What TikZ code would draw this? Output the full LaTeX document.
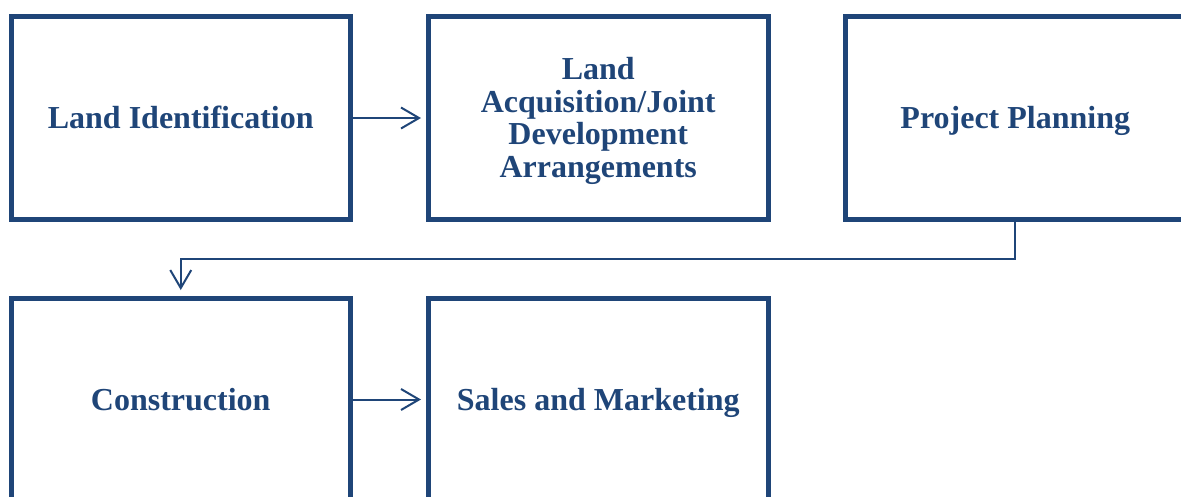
\documentclass[tikz,border=0pt]{standalone}
\usepackage{fontspec}
\setmainfont{Liberation Serif}
\usetikzlibrary{arrows.meta}
\definecolor{boxblue}{RGB}{31,69,120}
\begin{document}
\begin{tikzpicture}[x=1pt,y=-1pt,
  words/.style={inner sep=0pt, outer sep=0pt, align=center, text=boxblue,
    font=\fontsize{32}{32.5}\selectfont\bfseries},
  stage/.style={words, draw=boxblue, line width=5pt, minimum width=339.5pt, minimum height=203pt},
  oneline/.style={text height=21.8pt, text depth=0pt},
  link/.style={draw=boxblue, line width=2pt, -{Straight Barb[length=18pt,width=21pt]}}]
\clip (0,0) rectangle (1181,496);
\useasboundingbox (0,0) rectangle (1181,496);
\node[stage, oneline] (b1) at (180.75,118) {Land Identification};
\node[stage] (b2) at (598.25,118) {};
\node[words] (b2t) at ([yshift=-3pt]b2.center) {Land\\Acquisition/Joint\\Development\\Arrangements};
\node[stage, oneline] (b3) at (1015.25,118) {Project Planning};
\node[stage, oneline] (b4) at (180.75,399.5) {Construction};
\node[stage, oneline] (b5) at (598.25,399.5) {Sales and Marketing};
\coordinate (t1) at ([xshift=-7.5pt]b2.west);
\coordinate (t4) at ([xshift=-7.5pt]b5.west);
\coordinate (tb) at ([yshift=8pt]b4.north);
\draw[link] (b1.east) -- (t1);
\draw[link] (b4.east) -- (t4);
\draw[link] (b3.south) -- ++(0,39.5) -| (tb);
\end{tikzpicture}
\end{document}
